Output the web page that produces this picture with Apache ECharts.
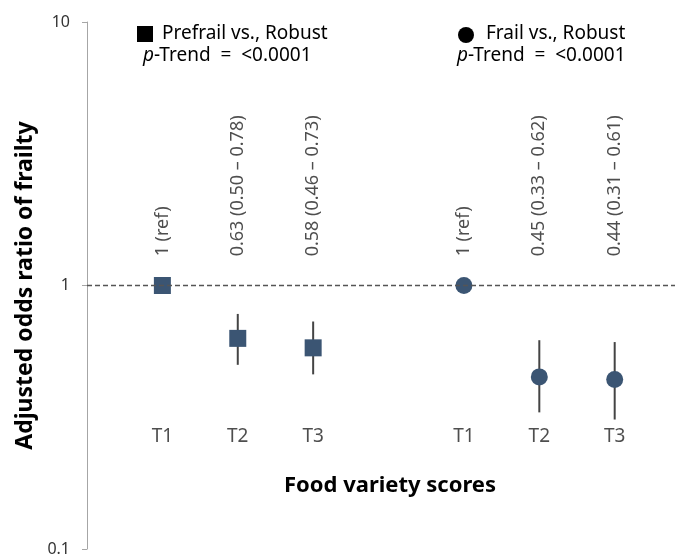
<!DOCTYPE html>
<html>
<head>
<meta charset="utf-8">
<script src="https://cdn.jsdelivr.net/npm/echarts@6/dist/echarts.min.js"></script>
<style>
  html, body { margin: 0; padding: 0; background: #fff; }
  #chart { width: 675px; height: 557px; }
</style>
</head>
<body>
<div id="chart"></div>
<script>
// x positions: 1-3 prefrail group, 5-7 frail group (4 is the gap)
const tertiles = ['T1', 'T2', 'T3'];
const prefrailX = [1, 2, 3];
const frailX = [5, 6, 7];

const prefrailOR = [1, 0.63, 0.58];
const prefrailLow = [null, 0.50, 0.46];
const prefrailHigh = [null, 0.78, 0.73];
const prefrailText = ['1 (ref)', '0.63 (0.50 – 0.78)', '0.58 (0.46 – 0.73)'];

const frailOR = [1, 0.45, 0.44];
const frailLow = [null, 0.33, 0.31];
const frailHigh = [null, 0.62, 0.61];
const frailText = ['1 (ref)', '0.45 (0.33 – 0.62)', '0.44 (0.31 – 0.61)'];

const yTicks = [0.1, 1, 10];

const FONT = '"Noto Sans", "Open Sans", sans-serif';
const MARK = '#3b5573';

const chart = echarts.init(document.getElementById('chart'));

// error bar data: [x, low, high]
const bars = [];
prefrailX.forEach((x, i) => { if (prefrailLow[i] != null) bars.push([x, prefrailLow[i], prefrailHigh[i]]); });
frailX.forEach((x, i) => { if (frailLow[i] != null) bars.push([x, frailLow[i], frailHigh[i]]); });

// text rows
const labelY = 1.29;  // just above the reference line
const tickY = 0.268;  // row of T1/T2/T3
const annot = [];
prefrailX.forEach((x, i) => annot.push({ value: [x, labelY], txt: prefrailText[i] }));
frailX.forEach((x, i) => annot.push({ value: [x, labelY], txt: frailText[i] }));
const tRow = [];
prefrailX.concat(frailX).forEach((x, i) => tRow.push({ value: [x, tickY], txt: tertiles[i % 3] }));

const headStyle = { fontSize: 19, fill: '#000', fontFamily: FONT, verticalAlign: 'middle' };
const trendStyle = {
  text: '{i|p}-Trend  =  <0.0001',
  fontSize: 19, fill: '#000', fontFamily: FONT, verticalAlign: 'middle',
  rich: { i: { fontStyle: 'italic', fontSize: 19, fontFamily: FONT } }
};

const option = {
  animation: false,
  textStyle: { fontFamily: FONT },
  grid: { left: 87, right: 0, top: 22, bottom: 7 },
  xAxis: {
    type: 'value',
    min: 0,
    max: 7.8,
    show: false
  },
  yAxis: {
    type: 'log',
    logBase: 10,
    min: 0.1,
    max: 10,
    name: 'Adjusted odds ratio of frailty',
    nameLocation: 'middle',
    nameGap: 45,
    nameTextStyle: { fontSize: 23, fontWeight: 'bold', color: '#000', fontFamily: FONT },
    axisLine: { show: true, lineStyle: { color: '#a6a6a6', width: 1 } },
    axisTick: { show: true, length: 5, lineStyle: { color: '#a6a6a6' } },
    splitLine: { show: false },
    axisLabel: {
      margin: 17,
      fontSize: 16,
      color: '#333',
      fontFamily: FONT,
      formatter: (v) => (yTicks.includes(+v.toFixed(1)) ? String(+v.toFixed(1)) : '')
    }
  },
  graphic: [
    { type: 'rect', shape: { x: 137, y: 26, width: 16, height: 16 }, style: { fill: '#000' } },
    { type: 'text', x: 162, y: 34, style: Object.assign({ text: 'Prefrail vs., Robust' }, headStyle) },
    { type: 'text', x: 143, y: 56, style: Object.assign({}, trendStyle) },
    { type: 'circle', shape: { cx: 466, cy: 35, r: 8 }, style: { fill: '#000' } },
    { type: 'text', x: 486, y: 34, style: Object.assign({ text: 'Frail vs., Robust' }, headStyle) },
    { type: 'text', x: 457, y: 56, style: Object.assign({}, trendStyle) },
    {
      type: 'text', x: 390, y: 486,
      style: { text: 'Food variety scores', fontSize: 22, fontWeight: 'bold', fill: '#000', fontFamily: FONT, align: 'center', verticalAlign: 'middle' }
    }
  ],
  series: [
    {
      type: 'custom',
      name: 'ci',
      z: 1,
      renderItem: (params, api) => {
        const lo = api.coord([api.value(0), api.value(1)]);
        const hi = api.coord([api.value(0), api.value(2)]);
        return {
          type: 'line',
          shape: { x1: lo[0], y1: lo[1], x2: hi[0], y2: hi[1] },
          style: { stroke: '#444', lineWidth: 2 }
        };
      },
      encode: { x: 0, y: [1, 2] },
      data: bars
    },
    {
      type: 'scatter',
      name: 'Prefrail vs., Robust',
      symbol: 'rect',
      symbolSize: 17,
      z: 3,
      itemStyle: { color: MARK, opacity: 1 },
      data: prefrailX.map((x, i) => [x, prefrailOR[i]]),
      markLine: {
        silent: true,
        symbol: 'none',
        label: { show: false },
        lineStyle: { type: [5, 3], color: '#555', width: 1.3 },
        data: [{ yAxis: 1 }]
      }
    },
    {
      type: 'scatter',
      name: 'Frail vs., Robust',
      symbol: 'circle',
      symbolSize: 17,
      z: 3,
      itemStyle: { color: MARK, opacity: 1 },
      data: frailX.map((x, i) => [x, frailOR[i]])
    },
    {
      type: 'scatter',
      name: 'annot',
      symbolSize: 0,
      silent: true,
      data: annot,
      label: {
        show: true,
        position: 'inside',
        rotate: 90,
        align: 'left',
        verticalAlign: 'middle',
        fontSize: 18,
        color: '#222',
        fontFamily: FONT,
        formatter: (p) => p.data.txt
      }
    },
    {
      type: 'scatter',
      name: 'tertile',
      symbolSize: 0,
      silent: true,
      data: tRow,
      label: {
        show: true,
        position: 'inside',
        fontSize: 19,
        color: '#222',
        fontFamily: FONT,
        formatter: (p) => p.data.txt
      }
    }
  ]
};

chart.setOption(option);
window.addEventListener('resize', () => chart.resize());
</script>
</body>
</html>
